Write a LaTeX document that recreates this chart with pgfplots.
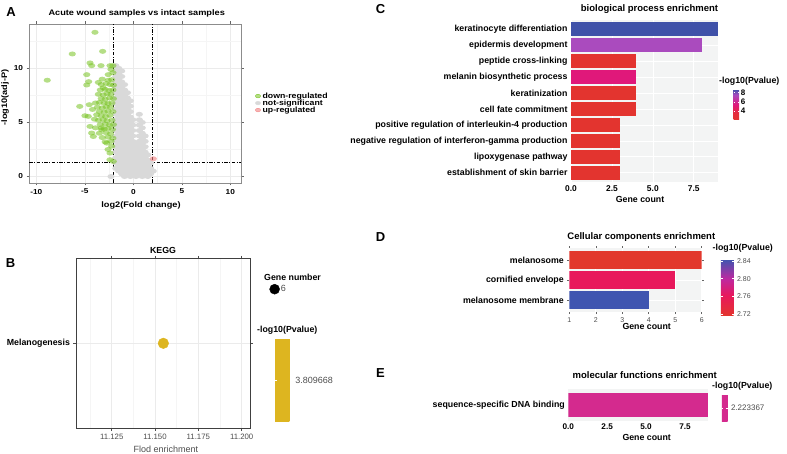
\documentclass[border=0pt]{standalone}
\usepackage{pgfplots}
\pgfplotsset{compat=1.18}
\usepackage{fontspec}
\setmainfont{Liberation Sans}
\newfontfamily\wide[FakeStretch=1.15]{Liberation Sans}
\definecolor{greenc}{RGB}{120,195,35}
\definecolor{grayc}{RGB}{217,217,217}
\definecolor{redc}{RGB}{240,128,128}
\definecolor{goldc}{RGB}{221,181,32}
\definecolor{cblue}{RGB}{63,81,168}
\definecolor{cpurple}{RGB}{170,75,190}
\definecolor{cmag}{RGB}{224,24,122}
\definecolor{cred}{RGB}{227,52,47}
\definecolor{dred}{RGB}{226,56,45}
\definecolor{dpink}{RGB}{232,24,92}
\definecolor{dblue}{RGB}{63,85,176}
\definecolor{emag}{RGB}{212,42,142}
\definecolor{bgc}{RGB}{243,244,244}
\definecolor{tgray}{RGB}{77,77,77}
\newcommand{\bl}{\bfseries\fontsize{8.8}{10}\selectfont}
\newcommand{\tl}{\bfseries\fontsize{9.5}{11}\selectfont}
\newcommand{\wl}{\wide\bfseries\fontsize{7.6}{8.5}\selectfont}
\begin{document}
\begin{tikzpicture}
\useasboundingbox (0,0) rectangle (787pt,-454pt);
%%%%%%%%%%%%%%%% Panel A
\begin{axis}[
 at={(29pt,-24pt)}, anchor=north west, scale only axis, width=212pt, height=159pt,
 xmin=-10.75, xmax=11.1, ymin=-0.6, ymax=14.1,
 xtick={-10,-5,0,5,10}, xticklabels={-10,-5,0,5,10},
 minor xtick={-7.5,-2.5,2.5,7.5},
 ytick={0,5,10}, yticklabels={0,5,10}, minor ytick={2.5,7.5,12.5},
 grid=both, major grid style={color=black!8, line width=0.5pt},
 minor grid style={color=black!4, line width=0.4pt},
 axis line style={draw=black!45, line width=0.7pt},
 tick align=outside, major tick length=2.5pt, minor tick length=0pt,
 tick style={black!60, line width=0.5pt},
 ticklabel style={font=\wide\bfseries\fontsize{7.2}{8}\selectfont},
 legend style={at={(1.066,0.575)}, anchor=north west, draw=none, fill=none,
   font=\wl, inner sep=0pt, row sep=-1.6pt, column sep=1pt,
   nodes={inner sep=0.8pt}},
 legend cell align=left,
]
\addlegendimage{legend image code/.code={\fill[greenc, fill opacity=0.55] (0pt,0pt) ellipse (2.6pt and 1.8pt);}}
\addlegendentry{down-regulated}
\addlegendimage{legend image code/.code={\fill[grayc] (0pt,0pt) ellipse (2.6pt and 1.8pt);}}
\addlegendentry{not-significant}
\addlegendimage{legend image code/.code={\fill[redc, fill opacity=0.6] (0pt,0pt) ellipse (2.6pt and 1.8pt);}}
\addlegendentry{up-regulated}
% not significant
\addplot[forget plot, only marks, mark=*, mark size=2.5pt, color=grayc, mark options={xscale=1.45, draw opacity=0, fill=grayc}] coordinates {
(-1.8,0.75)(-1.8,1.25)(-1.8,1.75)(-1.8,2.25)(-1.8,2.75)(-1.8,3.25)(-1.8,3.75)(-1.8,4.25)(-1.8,4.75)(-1.8,5.25)
(-1.8,5.75)(-1.8,6.25)(-1.8,6.75)(-1.8,7.25)(-1.8,7.75)(-1.8,8.25)(-1.8,8.75)(-1.8,9.25)(-1.8,9.75)(-1.8,10.25)
(-1.5,0.5)(-1.5,1.0)(-1.5,1.5)(-1.5,2.0)(-1.5,2.5)(-1.5,3.0)(-1.5,3.5)(-1.5,4.0)(-1.5,4.5)(-1.5,5.0)
(-1.5,5.5)(-1.5,6.0)(-1.5,6.5)(-1.5,7.0)(-1.5,7.5)(-1.5,8.0)(-1.5,8.5)(-1.5,9.0)(-1.5,9.5)(-1.5,10.0)
(-1.2,0.25)(-1.2,0.75)(-1.2,1.25)(-1.2,1.75)(-1.2,2.25)(-1.2,2.75)(-1.2,3.25)(-1.2,3.75)(-1.2,4.25)(-1.2,4.75)
(-1.2,5.25)(-1.2,5.75)(-1.2,6.25)(-1.2,6.75)(-1.2,7.25)(-1.2,7.75)(-1.2,8.25)(-1.2,8.75)(-1.2,9.25)(-1.2,9.75)
(-0.9,0.0)(-0.9,0.5)(-0.9,1.0)(-0.9,1.5)(-0.9,2.0)(-0.9,2.5)(-0.9,3.0)(-0.9,3.5)(-0.9,4.0)(-0.9,4.5)
(-0.9,5.0)(-0.9,5.5)(-0.9,6.0)(-0.9,6.5)(-0.9,7.0)(-0.9,7.5)(-0.9,8.0)(-0.9,8.5)
(-0.6,0.25)(-0.6,0.75)(-0.6,1.25)(-0.6,1.75)(-0.6,2.25)(-0.6,2.75)(-0.6,3.25)(-0.6,3.75)(-0.6,4.25)(-0.6,4.75)
(-0.6,5.25)(-0.6,5.75)(-0.6,6.25)(-0.6,6.75)(-0.6,7.25)(-0.6,7.75)
(-0.3,0.0)(-0.3,0.5)(-0.3,1.0)(-0.3,1.5)(-0.3,2.0)(-0.3,2.5)(-0.3,3.0)(-0.3,3.5)(-0.3,4.0)(-0.3,4.5)
(-0.3,5.0)(-0.3,5.5)(-0.3,6.0)(-0.3,6.5)(-0.3,7.0)
(-0.05,0.25)(-0.05,0.75)(-0.05,1.25)(-0.05,1.75)(-0.05,2.25)(-0.05,2.75)(-0.05,3.25)(-0.05,3.75)(-0.05,4.25)(-0.05,4.75)(-0.05,5.25)
(0.28,0.0)(0.28,0.5)(0.28,1.0)(0.28,1.5)(0.28,2.0)(0.28,2.5)(0.28,3.0)
(0.62,0.25)(0.62,0.75)(0.62,1.25)(0.62,1.75)(0.62,2.25)(0.62,2.75)(0.62,3.25)(0.62,3.75)(0.62,4.25)(0.62,4.75)(0.62,5.25)(0.62,5.75)
(0.92,0.0)(0.92,0.5)(0.92,1.0)(0.92,1.5)(0.92,2.0)(0.92,2.5)(0.92,3.0)(0.92,3.5)(0.92,4.0)(0.92,4.5)(0.92,5.0)
(1.22,0.25)(1.22,0.75)(1.22,1.25)(1.22,1.75)(1.22,2.25)(1.22,2.75)(1.22,3.25)(1.22,3.75)
(1.5,0.0)(1.5,0.5)(1.5,1.0)(1.5,1.5)(1.5,2.0)
(1.78,0.25)(1.78,0.75)(1.78,1.25)
(-2.3,0.0)(2.05,0.5)
};
% down-regulated
\addplot[forget plot, only marks, mark=*, mark size=2.5pt, color=greenc, mark options={xscale=1.45, draw opacity=0, fill=greenc, fill opacity=0.55}] coordinates {
(-8.87,8.9)(-6.29,11.33)(-5.52,6.48)(-4.54,6.64)(-4.98,5.62)(-4.64,5.56)(-3.77,5.71)(-4.46,4.63)(-4.29,4.02)(-4.12,3.7)
(-3.95,13.33)(-3.16,11.57)(-4.46,10.5)(-4.29,10.25)(-3.33,10.25)(-2.4,10.25)(-2.1,10.25)(-4.8,9.42)(-4.6,8.77)(-4.8,8.46)
(-2.58,9.42)(-2.23,8.95)(-2.4,8.5)(-2.06,1.39)(-2.4,1.55)(-2.4,2.17)(-2.23,2.8)(-2.6,2.5)(-2.74,3.09)(-3.26,4.32)
(-3.3,8.5)(-3.1,8.2)(-2.57,8.9)(-2.1,9.6)(-2.3,9.9)
(-3.4,8.0)(-2.9,8.05)(-2.5,7.95)(-2.1,8.0)
(-3.6,7.6)(-3.1,7.55)(-2.7,7.65)(-2.3,7.6)
(-3.3,7.2)(-2.9,7.15)(-2.45,7.25)(-2.05,7.2)
(-3.9,6.8)(-3.5,6.85)(-3.0,6.8)(-2.6,6.75)(-2.2,6.8)
(-3.7,6.4)(-3.2,6.35)(-2.8,6.45)(-2.35,6.4)
(-3.5,6.0)(-3.0,5.95)(-2.6,6.05)(-2.1,6.0)
(-3.3,5.6)(-2.85,5.55)(-2.4,5.65)
(-3.6,5.2)(-3.1,5.25)(-2.7,5.15)(-2.2,5.2)
(-3.4,4.8)(-2.9,4.85)(-2.45,4.75)(-2.05,4.8)
(-3.0,4.4)(-2.6,4.45)(-2.15,4.35)
(-3.5,4.0)(-2.8,4.05)(-2.35,3.95)
(-3.2,3.6)(-2.6,3.65)(-2.1,3.55)
(-2.9,3.2)(-2.3,3.25)
(-3.6,8.7)(-2.8,8.6)(-2.05,8.45)(-3.2,9.0)
(-4.2,6.2)(-4.0,5.3)(-3.9,4.5)(-3.3,4.5)
};
% up-regulated
\addplot[forget plot, only marks, mark=*, mark size=2.5pt, color=redc, mark options={xscale=1.45, draw opacity=0, fill=redc, fill opacity=0.6}] coordinates {(2.06,1.64)};
% thresholds
\addplot[forget plot, black, line width=0.8pt, dash pattern=on 3.5pt off 1.5pt on 1pt off 1.5pt] coordinates {(-2,-0.6) (-2,14.1)};
\addplot[forget plot, black, line width=0.8pt, dash pattern=on 3.5pt off 1.5pt on 1pt off 1.5pt] coordinates {(2,-0.6) (2,14.1)};
\addplot[forget plot, black, line width=0.8pt, dash pattern=on 3.5pt off 1.5pt on 1pt off 1.5pt] coordinates {(-10.75,1.301) (11.1,1.301)};
\end{axis}
\node[font=\bfseries\fontsize{13}{13}\selectfont] at (11pt,-12.5pt) {A};
\node[font=\wide\bfseries\fontsize{8}{9}\selectfont] at (136.7pt,-13.3pt) {Acute wound samples vs intact samples};
\node[font=\wide\bfseries\fontsize{8}{9}\selectfont] at (141pt,-205.5pt) {log2(Fold change)};
\node[font=\wide\bfseries\fontsize{8}{9}\selectfont, rotate=90] at (5pt,-97.5pt) {-log10(adj-P)};
%%%%%%%%%%%%%%%% Panel B
\begin{axis}[
 at={(76pt,-258.3pt)}, anchor=north west, scale only axis, width=174.7pt, height=170pt,
 xmin=11.1044, xmax=11.2052, ymin=0.4, ymax=1.6,
 xtick={11.125,11.15,11.175,11.2}, xticklabels={11.125,11.150,11.175,11.200},
 minor xtick={11.1125,11.1375,11.1625,11.1875},
 ytick={1}, yticklabels={Melanogenesis},
 grid=both, major grid style={color=black!8, line width=0.5pt},
 minor grid style={color=black!4, line width=0.4pt},
 axis line style={draw=black!75, line width=0.6pt},
 tick align=outside, major tick length=2.5pt, minor tick length=0pt,
 tick style={black!70, line width=0.5pt},
 xticklabel style={font=\fontsize{7.8}{9}\selectfont, text=tgray},
 yticklabel style={font=\bl},
 colormap={goldmap}{rgb255=(221,181,32) rgb255=(221,181,32)},
 point meta min=3.78, point meta max=3.84,
 colorbar,
 colorbar style={at={(parent axis.north east)}, anchor=north west, xshift=16pt, yshift=-80pt,
   scale only axis, width=16.6pt, height=83.4pt, axis line style={draw=none},
   ytick={3.809668}, yticklabels={3.809668}, tick align=inside, major tick length=2pt,
   ytick style={draw=white, line width=0.6pt}, yticklabel pos=right,
   yticklabel style={font=\fontsize{9}{10}\selectfont, text=tgray}},
 legend style={at={(1.106,0.85)}, anchor=north west, draw=none, fill=none,
   font=\fontsize{9}{10}\selectfont, inner sep=0pt, nodes={inner sep=1pt, text=tgray}},
]
\addlegendimage{legend image code/.code={\fill[black] (0pt,0pt) circle (5pt);}}
\addlegendentry{6}
\addplot[forget plot, only marks, mark=*, mark size=5.3pt, color=goldc] coordinates {(11.1548,1)};
\end{axis}
\node[font=\bfseries\fontsize{13}{13}\selectfont] at (10.5pt,-263.3pt) {B};
\node[font=\bl] at (163pt,-250.7pt) {KEGG};
\node[font=\fontsize{9}{10}\selectfont, text=tgray] at (166pt,-449pt) {Flod enrichment};
\node[font=\bl, anchor=west, inner sep=0pt] at (264pt,-277.3pt) {Gene number};
\node[font=\bl, anchor=west, inner sep=0pt] at (257pt,-330pt) {-log10(Pvalue)};
%%%%%%%%%%%%%%%% Panel C
\begin{axis}[
 at={(571pt,-19.7pt)}, anchor=north west, scale only axis, width=147.3pt, height=162.6pt,
 xmin=0, xmax=9, ymin=0.4, ymax=10.6, y dir=reverse,
 ytick={1,2,3,4,5,6,7,8,9,10},
 yticklabels={keratinocyte differentiation, epidermis development, peptide cross-linking, melanin biosynthetic process, keratinization, cell fate commitment, positive regulation of interleukin-4 production, negative regulation of interferon-gamma production, lipoxygenase pathway, establishment of skin barrier},
 xtick={0,2.5,5,7.5}, xticklabels={0.0,2.5,5.0,7.5},
 axis background/.style={fill=bgc},
 axis line style={draw=none}, major tick length=0pt,
 grid=major, major grid style={white, line width=0.6pt},
 xticklabel style={font=\bfseries\fontsize{8.4}{9}\selectfont},
 yticklabel style={font=\bl},
 colormap={bpmap}{rgb255(0cm)=(227,52,47) rgb255(2.2cm)=(228,45,60) rgb255(4.9cm)=(224,24,122) rgb255(8.2cm)=(168,75,191) rgb255(10cm)=(63,81,168)},
 point meta min=2.03, point meta max=8.74,
 colorbar,
 colorbar style={at={(parent axis.north east)}, anchor=north west, xshift=6.7pt, yshift=-69.6pt,
   scale only axis, width=5.7pt, height=30.7pt, axis line style={draw=none},
   ytick={4,6,8}, yticklabels={4,6,8}, tick align=inside, major tick length=1.5pt,
   ytick style={draw=white, line width=0.6pt}, yticklabel pos=right,
   yticklabel style={font=\bfseries\fontsize{8}{8}\selectfont, xshift=-2pt}},
]
\addplot[xbar, bar width=0.9, bar shift=0pt, fill=cblue, draw=none] coordinates {(9,1)};
\addplot[xbar, bar width=0.9, bar shift=0pt, fill=cpurple, draw=none] coordinates {(8,2)};
\addplot[xbar, bar width=0.9, bar shift=0pt, fill=cred, draw=none] coordinates {(4,3)};
\addplot[xbar, bar width=0.9, bar shift=0pt, fill=cmag, draw=none] coordinates {(4,4)};
\addplot[xbar, bar width=0.9, bar shift=0pt, fill=cred, draw=none] coordinates {(4,5)};
\addplot[xbar, bar width=0.9, bar shift=0pt, fill=cred, draw=none] coordinates {(4,6)};
\addplot[xbar, bar width=0.9, bar shift=0pt, fill=cred, draw=none] coordinates {(3,7)};
\addplot[xbar, bar width=0.9, bar shift=0pt, fill=cred, draw=none] coordinates {(3,8)};
\addplot[xbar, bar width=0.9, bar shift=0pt, fill=cred, draw=none] coordinates {(3,9)};
\addplot[xbar, bar width=0.9, bar shift=0pt, fill=cred, draw=none] coordinates {(3,10)};
\end{axis}
\node[font=\bfseries\fontsize{13}{13}\selectfont] at (380.5pt,-8.7pt) {C};
\node[font=\tl] at (649.5pt,-9.3pt) {biological process enrichment};
\node[font=\bl] at (640pt,-199pt) {Gene count};
\node[font=\bl, anchor=west, inner sep=0pt] at (719pt,-81.7pt) {-log10(Pvalue)};
%%%%%%%%%%%%%%%% Panel D
\begin{axis}[
 at={(569.3pt,-248pt)}, anchor=north west, scale only axis, width=132.4pt, height=64pt,
 xmin=1, xmax=6, ymin=0.4, ymax=3.6, y dir=reverse,
 ytick={1,2,3}, yticklabels={melanosome, cornified envelope, melanosome membrane},
 xtick={1,2,3,4,5,6}, xticklabels={1,2,3,4,5,6},
 axis background/.style={fill=bgc},
 axis line style={draw=none}, tick align=outside, major tick length=2pt,
 tick style={black!60, line width=0.5pt},
 grid=major, major grid style={white, line width=0.6pt},
 xticklabel style={font=\fontsize{7}{8}\selectfont, text=tgray},
 yticklabel style={font=\bl},
 colormap={ccmap}{rgb255(0cm)=(227,52,47) rgb255(3.5cm)=(232,24,92) rgb255(6.5cm)=(190,40,160) rgb255(10cm)=(63,85,176)},
 point meta min=2.7184, point meta max=2.8438,
 colorbar,
 colorbar style={at={(parent axis.north east)}, anchor=north west, xshift=10.6pt, yshift=-11.3pt,
   scale only axis, width=12.7pt, height=55.7pt, axis line style={draw=none},
   ytick={2.72,2.76,2.80,2.84}, yticklabels={2.72,2.76,2.80,2.84}, tick align=inside, major tick length=2pt,
   ytick style={draw=white, line width=0.6pt}, yticklabel pos=right,
   yticklabel style={font=\fontsize{7}{8}\selectfont, text=tgray}},
]
\addplot[xbar, bar width=0.9, bar shift=0pt, fill=dred, draw=none] coordinates {(6,1)};
\addplot[xbar, bar width=0.9, bar shift=0pt, fill=dpink, draw=none] coordinates {(5,2)};
\addplot[xbar, bar width=0.9, bar shift=0pt, fill=dblue, draw=none] coordinates {(4,3)};
\end{axis}
\node[font=\bfseries\fontsize{13}{13}\selectfont] at (380.5pt,-236.7pt) {D};
\node[font=\tl] at (641.3pt,-236.7pt) {Cellular components enrichment};
\node[font=\bl] at (646.7pt,-326.3pt) {Gene count};
\node[font=\bl, anchor=west, inner sep=0pt] at (712.5pt,-248.3pt) {-log10(Pvalue)};
%%%%%%%%%%%%%%%% Panel E
\begin{axis}[
 at={(568.3pt,-389.4pt)}, anchor=north west, scale only axis, width=140pt, height=31.2pt,
 xmin=0, xmax=9, ymin=0.4, ymax=1.6,
 ytick={1}, yticklabels={sequence-specific DNA binding},
 xtick={0,2.5,5,7.5}, xticklabels={0.0,2.5,5.0,7.5},
 axis background/.style={fill=bgc},
 axis line style={draw=none}, major tick length=0pt,
 xticklabel style={font=\bfseries\fontsize{8.2}{9}\selectfont},
 yticklabel style={font=\bl},
 colormap={emap}{rgb255=(212,42,142) rgb255=(212,42,142)},
 point meta min=2.2, point meta max=2.2467,
 colorbar,
 colorbar style={at={(parent axis.north east)}, anchor=north west, xshift=5pt, yshift=-4.6pt,
   scale only axis, width=5.7pt, height=27.7pt, axis line style={draw=none},
   ytick={2.223367}, yticklabels={2.223367}, tick align=inside, major tick length=1.5pt,
   ytick style={draw=white, line width=0.6pt}, yticklabel pos=right,
   yticklabel style={font=\fontsize{8}{9}\selectfont, text=tgray}},
]
\addplot[xbar, bar width=0.9, bar shift=0pt, fill=emag, draw=none] coordinates {(9,1)};
\end{axis}
\node[font=\bfseries\fontsize{13}{13}\selectfont] at (380.5pt,-373.3pt) {E};
\node[font=\tl] at (644.7pt,-374.7pt) {molecular functions enrichment};
\node[font=\bl] at (646.7pt,-437pt) {Gene count};
\node[font=\bl, anchor=west, inner sep=0pt] at (712pt,-386.7pt) {-log10(Pvalue)};
\end{tikzpicture}
\end{document}
